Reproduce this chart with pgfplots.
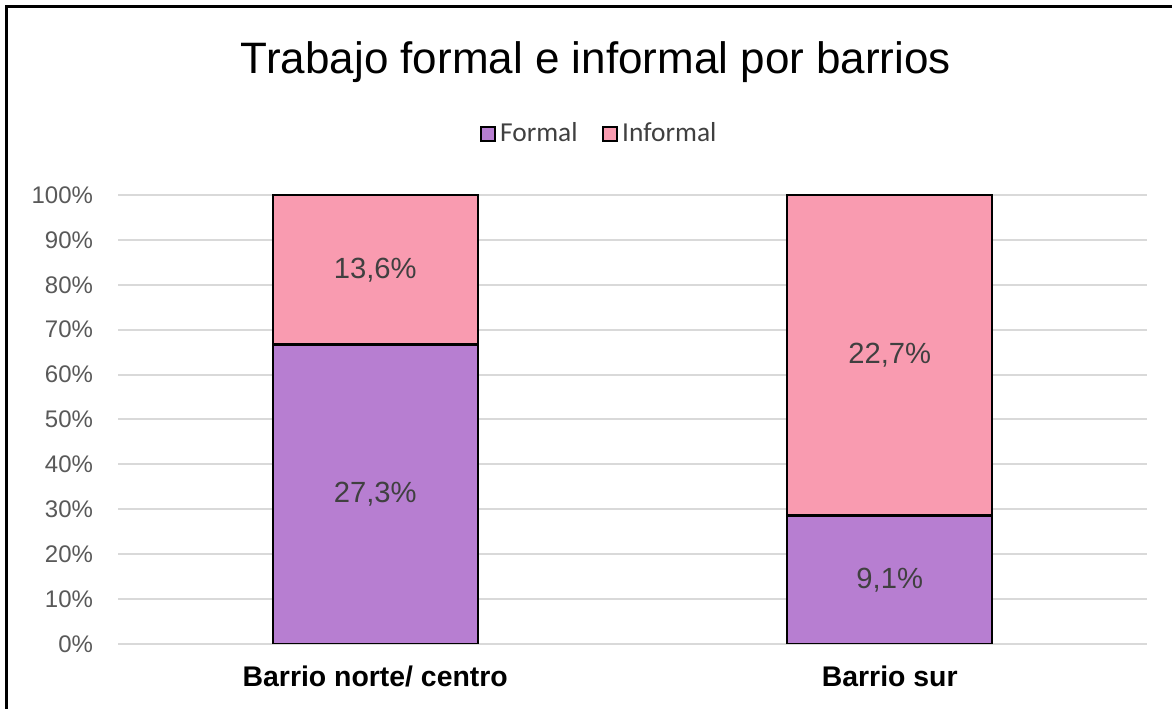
\documentclass[border=0pt]{standalone}
\usepackage{pgfplots}
\pgfplotsset{compat=1.18}
\usepackage{fontspec}
\setmainfont{Liberation Sans}
\newfontfamily\carlito{Carlito}
\definecolor{formalc}{HTML}{B77ED1}
\definecolor{informalc}{HTML}{F99BB0}
\definecolor{gridc}{HTML}{D9D9D9}
\definecolor{tickc}{HTML}{595959}
\definecolor{labc}{HTML}{404040}
\begin{document}
\begin{tikzpicture}
\begin{axis}[
  name=ax, at={(0,0)}, anchor=south west,
  scale only axis, width=514.5bp, height=224.5bp,
  ybar stacked, bar width=102.5bp,
  xmin=-0.5, xmax=1.5, ymin=0, ymax=100,
  xtick={0,1}, xticklabels={Barrio norte/ centro, Barrio sur},
  ytick={0,10,...,100},
  major tick length=0pt,
  axis line style={draw=none},
  ymajorgrids, grid style={gridc, line width=1bp},
  /pgf/number format/assume math mode=true,
  yticklabel={\pgfmathprintnumber[fixed,precision=0]{\tick}\%},
  yticklabel style={font=\fontsize{12bp}{14bp}\selectfont, text=tickc, xshift=-9bp},
  xticklabel style={font=\fontsize{14.2bp}{16bp}\selectfont\bfseries, text=black, yshift=-7.5bp},
  title={Trabajo formal e informal por barrios},
  title style={at={(0.4645,1)}, anchor=center, yshift=60.5bp, font=\fontsize{22bp}{26bp}\selectfont},
  legend style={draw=none, fill=none, at={(0.4684,1.136)}, anchor=center, legend columns=2,
    font=\carlito\fontsize{13.7bp}{16bp}\selectfont, text=labc,
    /tikz/every even column/.append style={column sep=10bp}},
  legend image code/.code={\draw[#1, draw=black, line width=1.1bp] (0bp,-3.6bp) rectangle (7.2bp,3.6bp);},
  nodes near coords, point meta=explicit symbolic,
  every node near coord/.append style={anchor=center, font=\fontsize{14.6bp}{17bp}\selectfont, text=labc},
]
\addplot[fill=formalc, draw=black, line width=1.1bp] coordinates {(0,66.7) [27,3\%] (1,28.6) [9,1\%]};
\addlegendentry{Formal}
\addplot[fill=informalc, draw=black, line width=1.1bp] coordinates {(0,33.3) [13,6\%] (1,71.4) [22,7\%]};
\addlegendentry{Informal}
\end{axis}
\draw[black, line width=1.5bp] (-55.5bp,-32.5bp) -- (-55.5bp,318.5bp) -- (527bp,318.5bp);
\pgfresetboundingbox
\path[use as bounding box] (-59bp,-32.5bp) rectangle (527bp,322bp);
\end{tikzpicture}
\end{document}
